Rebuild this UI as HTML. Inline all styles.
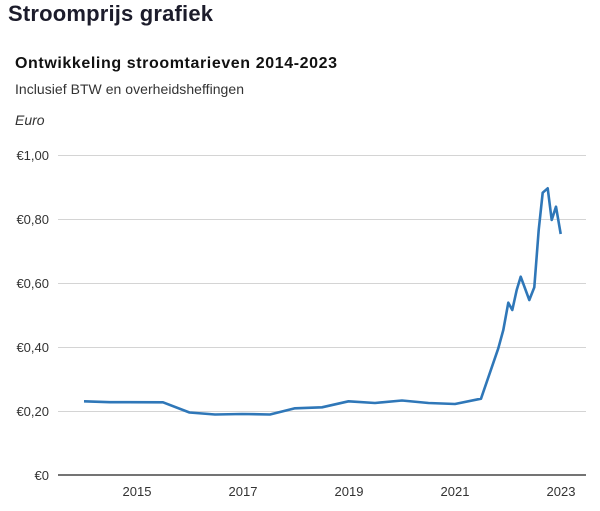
<!DOCTYPE html>
<html><head><meta charset="utf-8"><style>
html,body{margin:0;padding:0;background:#fff;width:600px;height:511px;overflow:hidden}
svg{display:block}
</style></head><body>
<svg width="600" height="511" viewBox="0 0 600 511" xmlns="http://www.w3.org/2000/svg">
<text x="8" y="21" font-family="Liberation Sans, sans-serif" font-weight="bold" font-size="22" fill="#1c1c2b" textLength="205" lengthAdjust="spacing">Stroomprijs grafiek</text>
<text x="15" y="68" font-family="Liberation Sans, sans-serif" font-weight="bold" font-size="16" fill="#111" textLength="322" lengthAdjust="spacing">Ontwikkeling stroomtarieven 2014-2023</text>
<text x="15" y="94" font-family="Liberation Sans, sans-serif" font-size="14" fill="#333" textLength="229" lengthAdjust="spacing">Inclusief BTW en overheidsheffingen</text>
<text x="15" y="125" font-family="Liberation Sans, sans-serif" font-style="italic" font-size="14" fill="#333">Euro</text>
<g stroke="#d4d4d4" stroke-width="1">
<line x1="58" y1="155.5" x2="586" y2="155.5"/>
<line x1="58" y1="219.5" x2="586" y2="219.5"/>
<line x1="58" y1="283.5" x2="586" y2="283.5"/>
<line x1="58" y1="347.5" x2="586" y2="347.5"/>
<line x1="58" y1="411.5" x2="586" y2="411.5"/>
</g>
<line x1="58" y1="475" x2="586" y2="475" stroke="#222" stroke-width="1.3"/>
<g font-family="Liberation Sans, sans-serif" font-size="13" fill="#333" text-anchor="end">
<text x="49" y="160">€1,00</text>
<text x="49" y="224">€0,80</text>
<text x="49" y="288">€0,60</text>
<text x="49" y="352">€0,40</text>
<text x="49" y="416">€0,20</text>
<text x="49" y="480">€0</text>
</g>
<g font-family="Liberation Sans, sans-serif" font-size="13" fill="#333" text-anchor="middle">
<text x="137" y="496">2015</text>
<text x="243" y="496">2017</text>
<text x="349" y="496">2019</text>
<text x="455" y="496">2021</text>
<text x="561" y="496">2023</text>
</g>
<polyline fill="none" stroke="#2f77b8" stroke-width="2.6" stroke-linejoin="round" points="84,401.3 110,402.2 163,402.3 189.5,412.5 215,414.5 242,414 270,414.5 295,408.3 322,407.3 348.5,401.3 375,403 402,400.5 428.5,403 455,404 481,398.7 498.3,348.3 503.3,330 508.3,302.7 512.3,310 516.7,290 520.7,276.7 529.3,300 534.3,287.3 538.7,230 542.7,192.7 547.7,188.3 551.7,220 556,206.7 560.7,234"/>
</svg>
</body></html>
